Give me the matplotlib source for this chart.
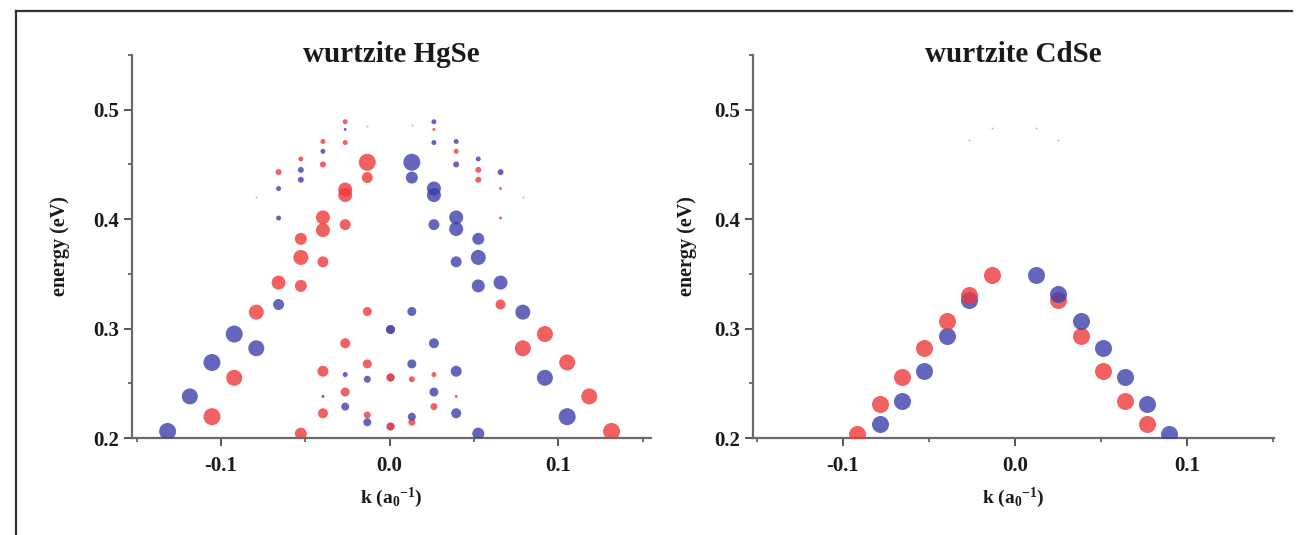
import matplotlib
matplotlib.use("Agg")
from matplotlib import pyplot as plt
from matplotlib.lines import Line2D
from matplotlib.ticker import MultipleLocator
import numpy as np

plt.rcParams['font.family'] = ['Liberation Serif', 'DejaVu Serif']
plt.rcParams['font.weight'] = 'bold'
plt.rcParams['mathtext.fontset'] = 'custom'
plt.rcParams['mathtext.rm'] = 'Liberation Serif:bold'
plt.rcParams['mathtext.it'] = 'Liberation Serif:bold'

# ---- wurtzite HgSe, red component: k, energy, weight (dot diameter, px)
hgse_red_k = [-0.1053, -0.0921, -0.0790, -0.0526,
              -0.0658, -0.0526, -0.0395, -0.0526, -0.0526, -0.0395, -0.0395, -0.0263,
              -0.0263, -0.0263, -0.0132, -0.0132,
              -0.0263, -0.0263, -0.0395, -0.0395, -0.0526, -0.0658,
              0.0263, 0.0395, 0.0526, 0.0526, 0.0658, 0.0658,
              -0.0395, -0.0395, -0.0263, -0.0263, -0.0132, -0.0132, -0.0132,
              0.0132, 0.0132, 0.0263, 0.0263, 0.0395,
              0.0658, 0.0921, 0.0790, 0.1053, 0.1184, 0.1316]
hgse_red_e = [0.2195, 0.255, 0.315, 0.204,
              0.342, 0.365, 0.361, 0.339, 0.382, 0.4016, 0.390, 0.395,
              0.427, 0.422, 0.452, 0.438,
              0.489, 0.470, 0.471, 0.450, 0.455, 0.443,
              0.482, 0.462, 0.445, 0.436, 0.428, 0.401,
              0.261, 0.2226, 0.2866, 0.242, 0.3156, 0.2677, 0.221,
              0.2537, 0.2144, 0.258, 0.2287, 0.238,
              0.322, 0.295, 0.282, 0.269, 0.238, 0.206]
hgse_red_w = [17, 16, 15, 12,
              14, 15, 11, 12, 12, 14, 14, 11,
              14, 14, 17, 11,
              5, 5, 5, 6, 5, 6,
              3, 5, 6, 6, 3, 3,
              11, 10, 10, 9, 9, 9, 7,
              6, 7, 5, 7, 3,
              10, 16, 16, 16, 16, 17]

# ---- wurtzite HgSe, blue component
hgse_blue_k = [0.1053, 0.0921, 0.0790, 0.0526,
               0.0658, 0.0526, 0.0395, 0.0526, 0.0526, 0.0395, 0.0395, 0.0263,
               0.0263, 0.0263, 0.0132, 0.0132,
               0.0263, 0.0263, 0.0395, 0.0395, 0.0526, 0.0658,
               -0.0263, -0.0395, -0.0526, -0.0526, -0.0658, -0.0658,
               0.0395, 0.0395, 0.0263, 0.0263, 0.0132, 0.0132, 0.0132,
               -0.0132, -0.0132, -0.0263, -0.0263, -0.0395,
               -0.0658, -0.0921, -0.0790, -0.1053, -0.1184, -0.1316]
hgse_blue_e = [0.2195, 0.255, 0.315, 0.204,
               0.342, 0.365, 0.361, 0.339, 0.382, 0.4016, 0.391, 0.395,
               0.428, 0.422, 0.452, 0.438,
               0.489, 0.470, 0.471, 0.450, 0.455, 0.443,
               0.482, 0.462, 0.445, 0.436, 0.428, 0.401,
               0.261, 0.2226, 0.2866, 0.242, 0.3156, 0.2677, 0.2195,
               0.2537, 0.2144, 0.258, 0.2287, 0.238,
               0.322, 0.295, 0.282, 0.269, 0.238, 0.206]
hgse_blue_w = [17, 16, 15, 12,
               14, 15, 11, 13, 12, 14, 14, 11,
               14, 14, 17, 12,
               5, 5, 5, 6, 5, 6,
               3, 5, 6, 6, 5, 5,
               11, 10, 10, 9, 9, 9, 8,
               7, 8, 5, 8, 3,
               11, 17, 16, 17, 16, 17]

# states at k = 0 (both components overlap); which colour shows on top
hgse_k0_e = [0.300, 0.2555, 0.211]
hgse_k0_w = [9, 8, 8]
hgse_k0_top = ['blue', 'red', 'red']

# faint grey states
hgse_grey_k = [-0.0790, -0.0132, 0.0132, 0.0790]
hgse_grey_e = [0.420, 0.485, 0.486, 0.420]

# ---- wurtzite CdSe
cdse_red_k = [-0.0917, -0.0785, -0.0655, -0.0528, -0.0397, -0.0266, -0.0136,
              0.0250, 0.0384, 0.0512, 0.0640, 0.0768]
cdse_red_e = [0.204, 0.231, 0.256, 0.282, 0.307, 0.331, 0.349,
              0.326, 0.2936, 0.261, 0.234, 0.2128]
cdse_blue_k = [-0.0785, -0.0655, -0.0528, -0.0397, -0.0266,
               0.0120, 0.0250, 0.0384, 0.0512, 0.0640, 0.0768, 0.0896]
cdse_blue_e = [0.2128, 0.234, 0.261, 0.2936, 0.326,
               0.3485, 0.3315, 0.307, 0.282, 0.256, 0.231, 0.204]
cdse_w = 17
cdse_grey_k = [-0.0266, -0.0136, 0.0120, 0.0250]
cdse_grey_e = [0.472, 0.483, 0.483, 0.472]

RED = '#ee3a3a'
BLUE = '#3c40aa'
ALPHA = 0.8


def area(w):
    w = np.asarray(w, dtype=float)
    return (0.72 * w) ** 2


def style_axes(ax, xlim, ylab_x):
    ax.set_xlim(*xlim)
    ax.set_ylim(0.2, 0.55)
    for s in ['top', 'right']:
        ax.spines[s].set_visible(False)
    for s in ['left', 'bottom']:
        ax.spines[s].set_color('#6a6a6a')
        ax.spines[s].set_linewidth(1.6)
    ax.set_yticks([0.2, 0.3, 0.4, 0.5])
    ax.set_xticks([-0.1, 0.0, 0.1])
    ax.set_xticklabels(['-0.1', '0.0', '0.1'])
    ax.xaxis.set_minor_locator(MultipleLocator(0.05))
    ax.yaxis.set_minor_locator(MultipleLocator(0.05))
    ax.tick_params(which='major', direction='out', length=6, width=1.4,
                   colors='#555555', labelcolor='#1a1a1a', labelsize=15)
    ax.tick_params(axis='x', which='major', pad=7)
    ax.tick_params(which='minor', direction='out', length=3, width=1.2, colors='#555555')
    ax.set_xlabel('k (a$_0$$^{-1}$)', fontsize=14, fontweight='bold', color='#1a1a1a')
    ax.xaxis.set_label_coords(0.5, -0.125)
    ax.set_ylabel('energy (eV)', fontsize=14.5, fontweight='bold', color='#1a1a1a')
    ax.yaxis.set_label_coords(ylab_x, 0.5)
    for t in ax.get_xticklabels() + ax.get_yticklabels():
        t.set_fontweight('bold')


fig = plt.figure(figsize=(13, 5.35), dpi=100)

# outer frame lines (top and left)
fig.add_artist(Line2D([16 / 1300, 1292 / 1300], [1 - 11 / 535, 1 - 11 / 535],
                      color='#333333', lw=1.6, transform=fig.transFigure))
fig.add_artist(Line2D([16 / 1300, 16 / 1300], [1 - 11 / 535, 0],
                      color='#333333', lw=1.6, transform=fig.transFigure))

ax1 = fig.add_axes([132 / 1300, 1 - 438 / 535, (651 - 132) / 1300, (438 - 55) / 535])
ax2 = fig.add_axes([753 / 1300, 1 - 438 / 535, (1274 - 753) / 1300, (438 - 55) / 535])

# HgSe
ax1.scatter(hgse_grey_k, hgse_grey_e, s=2, color='#bbbbbb', lw=0, zorder=2)
ax1.scatter(hgse_red_k, hgse_red_e, s=area(hgse_red_w), color=RED, alpha=ALPHA, lw=0, zorder=3)
ax1.scatter(hgse_blue_k, hgse_blue_e, s=area(hgse_blue_w), color=BLUE, alpha=ALPHA, lw=0, zorder=3)
for e, w, top in zip(hgse_k0_e, hgse_k0_w, hgse_k0_top):
    first, second = (RED, BLUE) if top == 'blue' else (BLUE, RED)
    ax1.scatter([0.0], [e], s=area([w]), color=first, alpha=0.6, lw=0, zorder=3)
    ax1.scatter([0.0], [e], s=area([w]), color=second, alpha=0.85, lw=0, zorder=4)
style_axes(ax1, (-0.1527, 0.155), -0.119)
ax1.text(0.5, 1.0, 'wurtzite HgSe', transform=ax1.transAxes, ha='center', va='center',
         fontsize=21, fontweight='bold', color='#1a1a1a')

# CdSe: blue under red on the left half, red under blue on the right half
ck_r = np.array(cdse_red_k)
ce_r = np.array(cdse_red_e)
ck_b = np.array(cdse_blue_k)
ce_b = np.array(cdse_blue_e)
ax2.scatter(cdse_grey_k, cdse_grey_e, s=2, color='#bbbbbb', lw=0, zorder=2)
ax2.scatter(ck_b[ck_b < 0], ce_b[ck_b < 0], s=area(cdse_w), color=BLUE, alpha=ALPHA, lw=0, zorder=3)
ax2.scatter(ck_r[ck_r < 0], ce_r[ck_r < 0], s=area(cdse_w), color=RED, alpha=ALPHA, lw=0, zorder=4)
ax2.scatter(ck_r[ck_r > 0], ce_r[ck_r > 0], s=area(cdse_w), color=RED, alpha=ALPHA, lw=0, zorder=3)
ax2.scatter(ck_b[ck_b > 0], ce_b[ck_b > 0], s=area(cdse_w), color=BLUE, alpha=ALPHA, lw=0, zorder=4)
style_axes(ax2, (-0.1523, 0.1506), -0.107)
ax2.text(0.5, 1.0, 'wurtzite CdSe', transform=ax2.transAxes, ha='center', va='center',
         fontsize=21, fontweight='bold', color='#1a1a1a')

fig.savefig('out.png', dpi=100)
